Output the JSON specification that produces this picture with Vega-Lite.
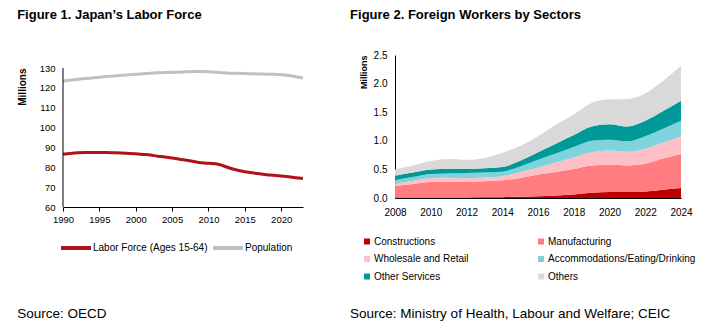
{
  "$schema": "https://vega.github.io/schema/vega-lite/v6.json",
  "padding": {"left": 17, "top": 9, "right": 5, "bottom": 0},
  "background": "white",
  "config": {
    "font": "Liberation Sans",
    "view": {"stroke": null},
    "axis": {"grid": false, "domainColor": "#000000", "tickColor": "#000000", "labelColor": "#000000", "titleColor": "#000000", "labelFont": "Liberation Sans", "titleFont": "Liberation Sans", "labelOverlap": false},
    "legend": {"labelFont": "Liberation Sans", "labelColor": "#000000", "padding": 0},
    "title": {"font": "Liberation Sans", "color": "#000000"}
  },
  "resolve": {"scale": {"color": "independent"}, "legend": {"color": "independent"}},
  "align": "none",
  "spacing": 41,
  "hconcat": [
    {
      "title": {"text": "Source: OECD", "orient": "bottom", "anchor": "start", "frame": "bounds", "fontSize": 13.5, "fontWeight": "normal", "offset": 51, "dx": 0},
      "vconcat": [
        {
          "title": {"text": "Figure 1. Japan’s Labor Force", "anchor": "start", "frame": "bounds", "fontSize": 13, "fontWeight": "bold", "offset": 33, "dx": 0},
          "width": 240,
          "height": 152,
          "layer": [
            {
              "data": {"values": [
                {"year": 1990, "series": "Labor Force (Ages 15-64)", "value": 86.6},
                {"year": 1991, "series": "Labor Force (Ages 15-64)", "value": 87.0},
                {"year": 1992, "series": "Labor Force (Ages 15-64)", "value": 87.3},
                {"year": 1993, "series": "Labor Force (Ages 15-64)", "value": 87.4},
                {"year": 1994, "series": "Labor Force (Ages 15-64)", "value": 87.4},
                {"year": 1995, "series": "Labor Force (Ages 15-64)", "value": 87.4},
                {"year": 1996, "series": "Labor Force (Ages 15-64)", "value": 87.4},
                {"year": 1997, "series": "Labor Force (Ages 15-64)", "value": 87.3},
                {"year": 1998, "series": "Labor Force (Ages 15-64)", "value": 87.2},
                {"year": 1999, "series": "Labor Force (Ages 15-64)", "value": 87.0},
                {"year": 2000, "series": "Labor Force (Ages 15-64)", "value": 86.8},
                {"year": 2001, "series": "Labor Force (Ages 15-64)", "value": 86.5},
                {"year": 2002, "series": "Labor Force (Ages 15-64)", "value": 86.2},
                {"year": 2003, "series": "Labor Force (Ages 15-64)", "value": 85.6},
                {"year": 2004, "series": "Labor Force (Ages 15-64)", "value": 85.2},
                {"year": 2005, "series": "Labor Force (Ages 15-64)", "value": 84.7},
                {"year": 2006, "series": "Labor Force (Ages 15-64)", "value": 84.1},
                {"year": 2007, "series": "Labor Force (Ages 15-64)", "value": 83.5},
                {"year": 2008, "series": "Labor Force (Ages 15-64)", "value": 82.9},
                {"year": 2009, "series": "Labor Force (Ages 15-64)", "value": 82.3},
                {"year": 2010, "series": "Labor Force (Ages 15-64)", "value": 82.0},
                {"year": 2011, "series": "Labor Force (Ages 15-64)", "value": 81.8},
                {"year": 2012, "series": "Labor Force (Ages 15-64)", "value": 80.8},
                {"year": 2013, "series": "Labor Force (Ages 15-64)", "value": 79.5},
                {"year": 2014, "series": "Labor Force (Ages 15-64)", "value": 78.5},
                {"year": 2015, "series": "Labor Force (Ages 15-64)", "value": 77.8},
                {"year": 2016, "series": "Labor Force (Ages 15-64)", "value": 77.2},
                {"year": 2017, "series": "Labor Force (Ages 15-64)", "value": 76.7},
                {"year": 2018, "series": "Labor Force (Ages 15-64)", "value": 76.3},
                {"year": 2019, "series": "Labor Force (Ages 15-64)", "value": 76.0},
                {"year": 2020, "series": "Labor Force (Ages 15-64)", "value": 75.6},
                {"year": 2021, "series": "Labor Force (Ages 15-64)", "value": 75.2},
                {"year": 2022, "series": "Labor Force (Ages 15-64)", "value": 74.7},
                {"year": 2023, "series": "Labor Force (Ages 15-64)", "value": 74.3},
                {"year": 1990, "series": "Population", "value": 123.5},
                {"year": 1991, "series": "Population", "value": 123.9},
                {"year": 1992, "series": "Population", "value": 124.3},
                {"year": 1993, "series": "Population", "value": 124.7},
                {"year": 1994, "series": "Population", "value": 125.0},
                {"year": 1995, "series": "Population", "value": 125.4},
                {"year": 1996, "series": "Population", "value": 125.7},
                {"year": 1997, "series": "Population", "value": 126.0},
                {"year": 1998, "series": "Population", "value": 126.3},
                {"year": 1999, "series": "Population", "value": 126.6},
                {"year": 2000, "series": "Population", "value": 126.8},
                {"year": 2001, "series": "Population", "value": 127.1},
                {"year": 2002, "series": "Population", "value": 127.4},
                {"year": 2003, "series": "Population", "value": 127.6},
                {"year": 2004, "series": "Population", "value": 127.7},
                {"year": 2005, "series": "Population", "value": 127.8},
                {"year": 2006, "series": "Population", "value": 127.9},
                {"year": 2007, "series": "Population", "value": 128.1},
                {"year": 2008, "series": "Population", "value": 128.2},
                {"year": 2009, "series": "Population", "value": 128.2},
                {"year": 2010, "series": "Population", "value": 128.1},
                {"year": 2011, "series": "Population", "value": 127.9},
                {"year": 2012, "series": "Population", "value": 127.6},
                {"year": 2013, "series": "Population", "value": 127.4},
                {"year": 2014, "series": "Population", "value": 127.3},
                {"year": 2015, "series": "Population", "value": 127.2},
                {"year": 2016, "series": "Population", "value": 127.1},
                {"year": 2017, "series": "Population", "value": 127.0},
                {"year": 2018, "series": "Population", "value": 126.9},
                {"year": 2019, "series": "Population", "value": 126.8},
                {"year": 2020, "series": "Population", "value": 126.6},
                {"year": 2021, "series": "Population", "value": 126.2},
                {"year": 2022, "series": "Population", "value": 125.6},
                {"year": 2023, "series": "Population", "value": 125.0}
              ]},
              "mark": {"type": "line", "interpolate": "monotone", "strokeWidth": 3},
              "encoding": {
                "x": {"field": "year", "type": "quantitative", "scale": {"domain": [1990, 2023], "nice": false, "zero": false},
                  "axis": {"title": null, "values": [1990, 1995, 2000, 2005, 2010, 2015, 2020], "format": "d", "labelFontSize": 9.5, "tickSize": 4, "labelPadding": 3, "labelFlush": false, "labelOverlap": false}},
                "y": {"field": "value", "type": "quantitative", "scale": {"domain": [60, 136.55], "nice": false, "zero": false},
                  "axis": {"title": "Millions", "titleAnchor": "end", "titleY": 13, "titleFontSize": 10, "titleFontWeight": "bold", "titlePadding": 12, "values": [60, 70, 80, 90, 100, 110, 120, 130], "labelFontSize": 9.5, "ticks": false, "domain": false, "labelPadding": 8, "labelOverlap": false}},
                "color": {"field": "series", "type": "nominal",
                  "scale": {"domain": ["Labor Force (Ages 15-64)", "Population"], "range": ["#B0121A", "#C0C0C0"]},
                  "legend": {"title": null, "orient": "none", "legendX": -4, "legendY": 176, "direction": "horizontal", "symbolType": "stroke", "symbolSize": 900, "symbolStrokeWidth": 4, "labelFontSize": 10, "labelOffset": 0, "columnPadding": -3}}
              }
            },
            {
              "data": {"values": [{}]},
              "mark": {"type": "rule", "color": "#000000", "strokeWidth": 1},
              "encoding": {
                "x": {"datum": 1990, "type": "quantitative",
                  "axis": {"title": null, "values": [1990, 1995, 2000, 2005, 2010, 2015, 2020], "format": "d", "labelFontSize": 9.5, "tickSize": 4, "labelPadding": 3, "labelFlush": false, "labelOverlap": false}},
                "y": {"datum": 60, "type": "quantitative",
                  "axis": {"title": "Millions", "titleAnchor": "end", "titleY": 13, "titleFontSize": 10, "titleFontWeight": "bold", "titlePadding": 12, "values": [60, 70, 80, 90, 100, 110, 120, 130], "labelFontSize": 9.5, "ticks": false, "domain": false, "labelPadding": 8, "labelOverlap": false}},
                "y2": {"datum": 130}
              }
            }
          ]
        }
      ]
    },
    {
      "title": {"text": "Source: Ministry of Health, Labour and Welfare; CEIC", "orient": "bottom", "anchor": "start", "frame": "bounds", "fontSize": 13.5, "fontWeight": "normal", "offset": 25, "dx": 0},
      "vconcat": [
        {
          "title": {"text": "Figure 2. Foreign Workers by Sectors", "anchor": "start", "frame": "bounds", "fontSize": 13, "fontWeight": "bold", "offset": 28, "dx": -9},
          "width": 286,
          "height": 143,
          "data": {"values": [
            {"year": 2008, "sector": "Constructions", "value": 0.01},
            {"year": 2008, "sector": "Manufacturing", "value": 0.20},
            {"year": 2008, "sector": "Wholesale and Retail", "value": 0.04},
            {"year": 2008, "sector": "Accommodations/Eating/Drinking", "value": 0.06},
            {"year": 2008, "sector": "Other Services", "value": 0.08},
            {"year": 2008, "sector": "Others", "value": 0.11},
            {"year": 2009, "sector": "Constructions", "value": 0.01},
            {"year": 2009, "sector": "Manufacturing", "value": 0.235},
            {"year": 2009, "sector": "Wholesale and Retail", "value": 0.055},
            {"year": 2009, "sector": "Accommodations/Eating/Drinking", "value": 0.065},
            {"year": 2009, "sector": "Other Services", "value": 0.08},
            {"year": 2009, "sector": "Others", "value": 0.125},
            {"year": 2010, "sector": "Constructions", "value": 0.01},
            {"year": 2010, "sector": "Manufacturing", "value": 0.27},
            {"year": 2010, "sector": "Wholesale and Retail", "value": 0.07},
            {"year": 2010, "sector": "Accommodations/Eating/Drinking", "value": 0.07},
            {"year": 2010, "sector": "Other Services", "value": 0.08},
            {"year": 2010, "sector": "Others", "value": 0.145},
            {"year": 2011, "sector": "Constructions", "value": 0.01},
            {"year": 2011, "sector": "Manufacturing", "value": 0.275},
            {"year": 2011, "sector": "Wholesale and Retail", "value": 0.07},
            {"year": 2011, "sector": "Accommodations/Eating/Drinking", "value": 0.075},
            {"year": 2011, "sector": "Other Services", "value": 0.08},
            {"year": 2011, "sector": "Others", "value": 0.17},
            {"year": 2012, "sector": "Constructions", "value": 0.01},
            {"year": 2012, "sector": "Manufacturing", "value": 0.28},
            {"year": 2012, "sector": "Wholesale and Retail", "value": 0.06},
            {"year": 2012, "sector": "Accommodations/Eating/Drinking", "value": 0.085},
            {"year": 2012, "sector": "Other Services", "value": 0.075},
            {"year": 2012, "sector": "Others", "value": 0.157},
            {"year": 2013, "sector": "Constructions", "value": 0.012},
            {"year": 2013, "sector": "Manufacturing", "value": 0.283},
            {"year": 2013, "sector": "Wholesale and Retail", "value": 0.065},
            {"year": 2013, "sector": "Accommodations/Eating/Drinking", "value": 0.085},
            {"year": 2013, "sector": "Other Services", "value": 0.075},
            {"year": 2013, "sector": "Others", "value": 0.18},
            {"year": 2014, "sector": "Constructions", "value": 0.015},
            {"year": 2014, "sector": "Manufacturing", "value": 0.295},
            {"year": 2014, "sector": "Wholesale and Retail", "value": 0.07},
            {"year": 2014, "sector": "Accommodations/Eating/Drinking", "value": 0.08},
            {"year": 2014, "sector": "Other Services", "value": 0.08},
            {"year": 2014, "sector": "Others", "value": 0.25},
            {"year": 2015, "sector": "Constructions", "value": 0.02},
            {"year": 2015, "sector": "Manufacturing", "value": 0.33},
            {"year": 2015, "sector": "Wholesale and Retail", "value": 0.10},
            {"year": 2015, "sector": "Accommodations/Eating/Drinking", "value": 0.10},
            {"year": 2015, "sector": "Other Services", "value": 0.10},
            {"year": 2015, "sector": "Others", "value": 0.26},
            {"year": 2016, "sector": "Constructions", "value": 0.03},
            {"year": 2016, "sector": "Manufacturing", "value": 0.38},
            {"year": 2016, "sector": "Wholesale and Retail", "value": 0.12},
            {"year": 2016, "sector": "Accommodations/Eating/Drinking", "value": 0.14},
            {"year": 2016, "sector": "Other Services", "value": 0.13},
            {"year": 2016, "sector": "Others", "value": 0.28},
            {"year": 2017, "sector": "Constructions", "value": 0.045},
            {"year": 2017, "sector": "Manufacturing", "value": 0.41},
            {"year": 2017, "sector": "Wholesale and Retail", "value": 0.165},
            {"year": 2017, "sector": "Accommodations/Eating/Drinking", "value": 0.16},
            {"year": 2017, "sector": "Other Services", "value": 0.17},
            {"year": 2017, "sector": "Others", "value": 0.33},
            {"year": 2018, "sector": "Constructions", "value": 0.06},
            {"year": 2018, "sector": "Manufacturing", "value": 0.445},
            {"year": 2018, "sector": "Wholesale and Retail", "value": 0.205},
            {"year": 2018, "sector": "Accommodations/Eating/Drinking", "value": 0.18},
            {"year": 2018, "sector": "Other Services", "value": 0.21},
            {"year": 2018, "sector": "Others", "value": 0.36},
            {"year": 2019, "sector": "Constructions", "value": 0.09},
            {"year": 2019, "sector": "Manufacturing", "value": 0.48},
            {"year": 2019, "sector": "Wholesale and Retail", "value": 0.23},
            {"year": 2019, "sector": "Accommodations/Eating/Drinking", "value": 0.20},
            {"year": 2019, "sector": "Other Services", "value": 0.25},
            {"year": 2019, "sector": "Others", "value": 0.41},
            {"year": 2020, "sector": "Constructions", "value": 0.105},
            {"year": 2020, "sector": "Manufacturing", "value": 0.475},
            {"year": 2020, "sector": "Wholesale and Retail", "value": 0.25},
            {"year": 2020, "sector": "Accommodations/Eating/Drinking", "value": 0.19},
            {"year": 2020, "sector": "Other Services", "value": 0.27},
            {"year": 2020, "sector": "Others", "value": 0.435},
            {"year": 2021, "sector": "Constructions", "value": 0.105},
            {"year": 2021, "sector": "Manufacturing", "value": 0.465},
            {"year": 2021, "sector": "Wholesale and Retail", "value": 0.24},
            {"year": 2021, "sector": "Accommodations/Eating/Drinking", "value": 0.18},
            {"year": 2021, "sector": "Other Services", "value": 0.26},
            {"year": 2021, "sector": "Others", "value": 0.48},
            {"year": 2022, "sector": "Constructions", "value": 0.115},
            {"year": 2022, "sector": "Manufacturing", "value": 0.485},
            {"year": 2022, "sector": "Wholesale and Retail", "value": 0.26},
            {"year": 2022, "sector": "Accommodations/Eating/Drinking", "value": 0.22},
            {"year": 2022, "sector": "Other Services", "value": 0.27},
            {"year": 2022, "sector": "Others", "value": 0.48},
            {"year": 2023, "sector": "Constructions", "value": 0.145},
            {"year": 2023, "sector": "Manufacturing", "value": 0.545},
            {"year": 2023, "sector": "Wholesale and Retail", "value": 0.28},
            {"year": 2023, "sector": "Accommodations/Eating/Drinking", "value": 0.24},
            {"year": 2023, "sector": "Other Services", "value": 0.31},
            {"year": 2023, "sector": "Others", "value": 0.53},
            {"year": 2024, "sector": "Constructions", "value": 0.175},
            {"year": 2024, "sector": "Manufacturing", "value": 0.595},
            {"year": 2024, "sector": "Wholesale and Retail", "value": 0.31},
            {"year": 2024, "sector": "Accommodations/Eating/Drinking", "value": 0.27},
            {"year": 2024, "sector": "Other Services", "value": 0.35},
            {"year": 2024, "sector": "Others", "value": 0.61}
          ]},
          "transform": [
            {"calculate": "indexof(['Constructions','Manufacturing','Wholesale and Retail','Accommodations/Eating/Drinking','Other Services','Others'], datum.sector)", "as": "stackOrder"}
          ],
          "mark": {"type": "area", "interpolate": "monotone"},
          "encoding": {
            "x": {"field": "year", "type": "quantitative", "scale": {"domain": [2008, 2024], "nice": false, "zero": false},
              "axis": {"title": null, "values": [2008, 2010, 2012, 2014, 2016, 2018, 2020, 2022, 2024], "format": "d", "labelFontSize": 10, "ticks": false, "labelPadding": 9, "labelFlush": false}},
            "y": {"field": "value", "type": "quantitative", "stack": "zero", "scale": {"domain": [0, 2.5], "nice": false},
              "axis": {"title": "Millions", "titleAnchor": "end", "titleFontSize": 9, "titleFontWeight": "bold", "titlePadding": 5, "values": [0, 0.5, 1, 1.5, 2, 2.5], "format": ".1f", "labelFontSize": 10, "ticks": false, "labelPadding": 8}},
            "order": {"field": "stackOrder", "type": "quantitative", "sort": "ascending"},
            "color": {"field": "sector", "type": "nominal",
              "scale": {"domain": ["Constructions", "Manufacturing", "Wholesale and Retail", "Accommodations/Eating/Drinking", "Other Services", "Others"], "range": ["#C00000", "#FF7C80", "#FFBFC6", "#7FD3DC", "#009999", "#D9D9D9"]},
              "legend": {"title": null, "orient": "none", "legendX": -33, "legendY": 181.5, "direction": "horizontal", "columns": 2, "symbolType": "square", "symbolSize": 36, "symbolStrokeWidth": 0, "labelFontSize": 10, "labelOffset": 2, "columnPadding": 67, "rowPadding": 7.5}}
          }
        }
      ]
    }
  ]
}
